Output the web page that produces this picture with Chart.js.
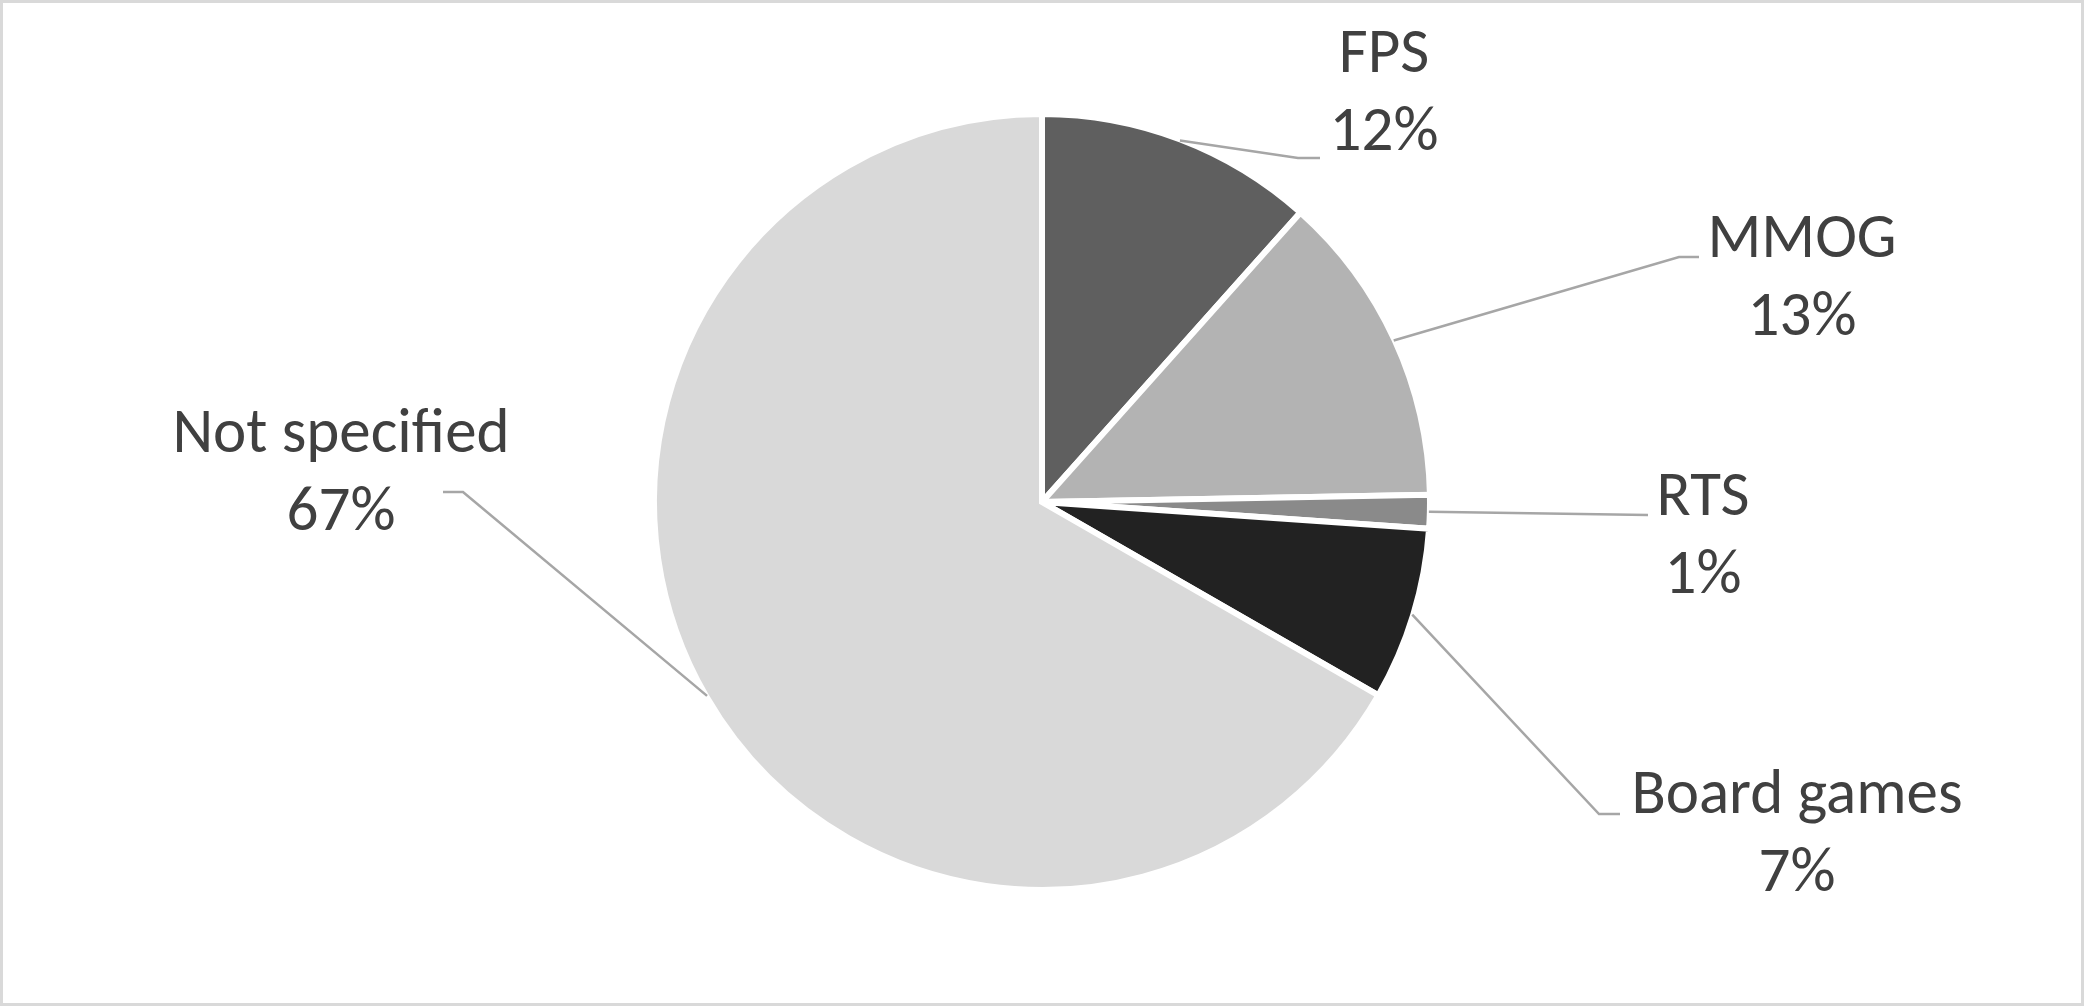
<!DOCTYPE html>
<html>
<head>
<meta charset="utf-8">
<script src="https://cdn.jsdelivr.net/npm/chart.js@4/dist/chart.umd.min.js"></script>
<style>
  html, body { margin: 0; padding: 0; background: #ffffff; }
  #wrap { width: 2084px; height: 1006px; position: relative; }
  canvas { display: block; }
</style>
</head>
<body>
<div id="wrap"><canvas id="c" width="2084" height="1006"></canvas></div>
<script>
// ---- data ----
const categories = ["FPS", "MMOG", "RTS", "Board games", "Not specified"];
const shares = [11.6, 13.1, 1.4, 7.2, 66.7];
const sliceColors = ["#5f5f5f", "#b3b3b3", "#8a8a8a", "#222222", "#d9d9d9"];

// ---- label layout (offsets from pie centre, px) ----
const labelLayout = [
  { tx: 342, ty: -430, ex: 278, ey: -344, elbow: -22 },
  { tx: 760, ty: -245, ex: 657, ey: -245, elbow: -20 },
  { tx: 661, ty: 13,   ex: 606, ey: 13,   elbow: 0 },
  { tx: 755, ty: 311,  ex: 578, ey: 312,  elbow: -21 },
  { tx: -701, ty: -50, ex: -599, ey: -10, elbow: 20 }
];
const FONT = '63px Carlito, "Open Sans", Lato, sans-serif';
const LINE_GAP = 78;

const framePlugin = {
  id: 'frame',
  beforeDraw(chart) {
    const ctx = chart.ctx;
    ctx.save();
    ctx.fillStyle = '#ffffff';
    ctx.fillRect(0, 0, chart.width, chart.height);
    ctx.strokeStyle = '#d9d9d9';
    ctx.lineWidth = 3;
    ctx.strokeRect(1.5, 1.5, chart.width - 3, chart.height - 3);
    ctx.restore();
  }
};

const labelPlugin = {
  id: 'sliceLabels',
  afterDatasetsDraw(chart) {
    const ctx = chart.ctx;
    const meta = chart.getDatasetMeta(0);
    const vals = chart.data.datasets[0].data;
    const total = vals.reduce((a, b) => a + b, 0);
    ctx.save();
    meta.data.forEach((arc, i) => {
      const p = arc.getProps(['x', 'y', 'startAngle', 'endAngle', 'outerRadius'], true);
      const mid = (p.startAngle + p.endAngle) / 2;
      const r = p.outerRadius - 1;
      const sx = p.x + Math.cos(mid) * r;
      const sy = p.y + Math.sin(mid) * r;
      const L = labelLayout[i];
      const ex = p.x + L.ex, ey = p.y + L.ey;
      const bx = ex + L.elbow;
      ctx.strokeStyle = '#a6a6a6';
      ctx.lineWidth = 2.5;
      ctx.beginPath();
      ctx.moveTo(sx, sy);
      ctx.lineTo(bx, ey);
      ctx.lineTo(ex, ey);
      ctx.stroke();
      ctx.fillStyle = '#404040';
      ctx.font = FONT;
      ctx.textAlign = 'center';
      ctx.textBaseline = 'alphabetic';
      const pct = Math.round(vals[i] / total * 100) + '%';
      ctx.fillText(chart.data.labels[i], p.x + L.tx, p.y + L.ty);
      ctx.fillText(pct, p.x + L.tx, p.y + L.ty + LINE_GAP);
    });
    ctx.restore();
  }
};

new Chart(document.getElementById('c'), {
  type: 'pie',
  data: {
    labels: categories,
    datasets: [{
      data: shares,
      backgroundColor: sliceColors,
      borderColor: '#ffffff',
      borderWidth: 6,
      borderJoinStyle: 'miter'
    }]
  },
  options: {
    responsive: false,
    animation: false,
    radius: 388,
    layout: { padding: { bottom: 2 } },
    plugins: {
      legend: { display: false },
      tooltip: { enabled: false }
    }
  },
  plugins: [framePlugin, labelPlugin]
});
</script>
</body>
</html>
